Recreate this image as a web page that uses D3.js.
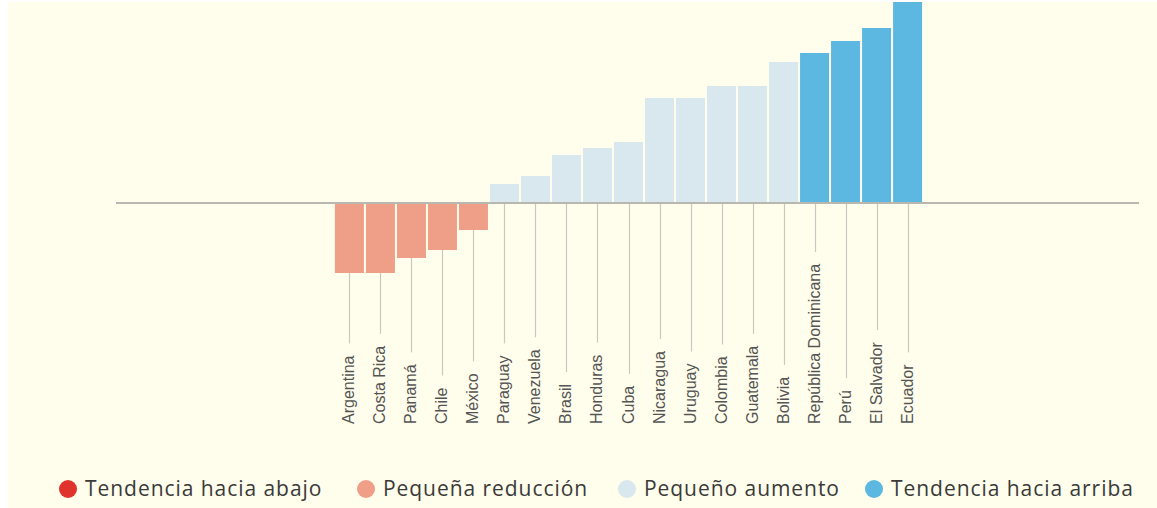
<!DOCTYPE html>
<html>
<head>
<meta charset="utf-8">
<script src="https://cdn.jsdelivr.net/npm/d3@7"></script>
<style>
    body { margin: 0; background: #ffffff; }
    svg { display: block; }
</style>
</head>
<body>
<div id="chart"></div>
<script>
// Countries, sorted from the biggest drop to the biggest rise
var countries = ["Argentina", "Costa Rica", "Panamá", "Chile", "México", "Paraguay", "Venezuela",
    "Brasil", "Honduras", "Cuba", "Nicaragua", "Uruguay", "Colombia", "Guatemala", "Bolivia",
    "República Dominicana", "Perú", "El Salvador", "Ecuador"];
var values = [-70, -70, -55, -47, -27, 19, 27, 48, 55, 61, 105, 105, 117, 117, 141, 150, 162, 175, 201];
var groups = ["reduccion", "reduccion", "reduccion", "reduccion", "reduccion",
    "aumento", "aumento", "aumento", "aumento", "aumento", "aumento", "aumento", "aumento", "aumento", "aumento",
    "arriba", "arriba", "arriba", "arriba"];

// legend entries
var legendKeys = ["abajo", "reduccion", "aumento", "arriba"];
var legendLabels = ["Tendencia hacia abajo", "Pequeña reducción", "Pequeño aumento", "Tendencia hacia arriba"];
var legendColors = ["#e0332e", "#ef9e87", "#d9e8ee", "#5cb8e1"];

var width = 1157, height = 508;
var zeroY = 203;
var labelBottom = 424;

var svg = d3.select("#chart").append("svg")
    .attr("width", width)
    .attr("height", height);

// cream background with a thin white frame on the left and top
svg.append("rect")
    .attr("x", 8).attr("y", 2)
    .attr("width", width - 8).attr("height", height - 2)
    .attr("fill", "#fffdeb");

var color = d3.scaleOrdinal().domain(legendKeys).range(legendColors);

var x = d3.scaleBand()
    .domain(countries)
    .range([334, 923])
    .paddingInner(0.065)
    .paddingOuter(0.03);

var y = d3.scaleLinear()
    .domain([0, 200])
    .range([zeroY, 3]);

var data = countries.map(function(c, i) {
    return {name: c, value: values[i], group: groups[i]};
});

var tickLayer = svg.append("g");

// country labels, rotated
var labels = svg.append("g").selectAll("text")
    .data(data)
    .enter().append("text")
    .attr("transform", function(d) {
        return "translate(" + (x(d.name) + x.bandwidth() / 2 + 5) + "," + labelBottom + ") rotate(-90)";
    })
    .style("font-family", "'Liberation Sans Narrow', 'Liberation Sans', Arial, sans-serif")
    .style("font-size", "16px")
    .attr("fill", "#555555")
    .text(function(d) { return d.name; });

// thin lines from the axis down to each label
labels.each(function(d) {
    var len = this.getComputedTextLength();
    var cx = Math.round(x(d.name) + x.bandwidth() / 2) + 0.5;
    tickLayer.append("line")
        .attr("x1", cx).attr("x2", cx)
        .attr("y1", zeroY)
        .attr("y2", labelBottom - len - 12)
        .attr("stroke", "#c9c9c2")
        .attr("stroke-width", 1.2);
});

// bars
svg.append("g").selectAll("rect")
    .data(data)
    .enter().append("rect")
    .attr("x", function(d) { return x(d.name); })
    .attr("width", x.bandwidth())
    .attr("y", function(d) { return Math.min(y(d.value), y(0)); })
    .attr("height", function(d) { return Math.abs(y(d.value) - y(0)); })
    .attr("fill", function(d) { return color(d.group); });

// zero line
svg.append("line")
    .attr("x1", 116).attr("x2", 1139)
    .attr("y1", zeroY).attr("y2", zeroY)
    .attr("stroke", "#b8b8b0")
    .attr("stroke-width", 2);

// legend
var legendX = [68, 366, 627, 874];
var legend = svg.append("g").selectAll("g")
    .data(legendKeys)
    .enter().append("g")
    .attr("transform", function(d, i) { return "translate(" + legendX[i] + ",489)"; });

legend.append("circle")
    .attr("r", 9)
    .attr("fill", function(d) { return color(d); });

legend.append("text")
    .attr("x", 17)
    .attr("dy", "0.35em")
    .style("font-family", "'Open Sans', sans-serif")
    .style("font-size", "21px")
    .style("letter-spacing", "0.95px")
    .attr("fill", "#3a3a3a")
    .text(function(d, i) { return legendLabels[i]; });
</script>
</body>
</html>
